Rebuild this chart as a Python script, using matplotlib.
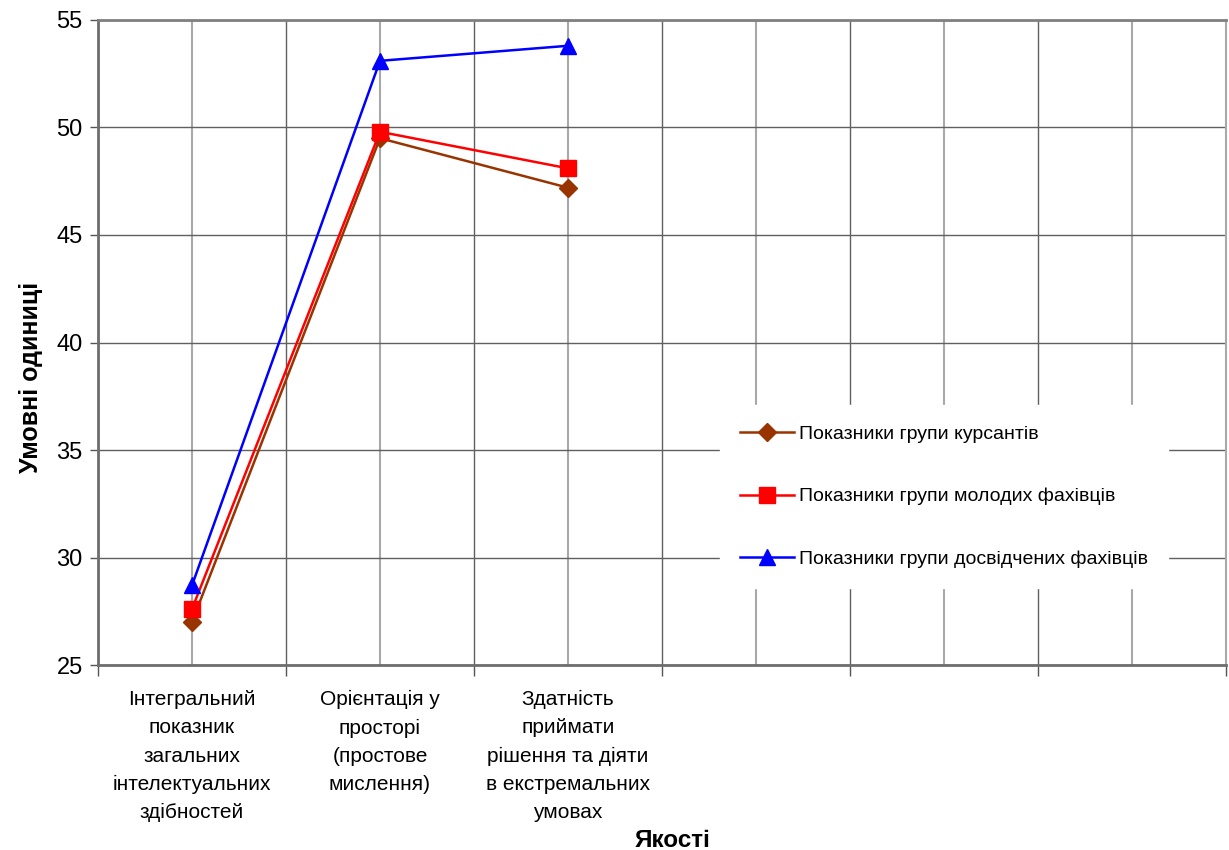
import matplotlib.pyplot as plt
from matplotlib.ticker import FixedLocator, MultipleLocator

plt.rcParams['font.family'] = ['Liberation Sans', 'DejaVu Sans']

categories = [
    "Інтегральний\nпоказник\nзагальних\nінтелектуальних\nздібностей",
    "Орієнтація у\nпросторі\n(простове\nмислення)",
    "Здатність\nприймати\nрішення та діяти\nв екстремальних\nумовах",
    "", "", "",
]
cadets = [27.0, 49.5, 47.2]
young = [27.6, 49.8, 48.1]
experienced = [28.7, 53.1, 53.8]

series_names = [
    "Показники групи курсантів",
    "Показники групи молодих фахівців",
    "Показники групи досвідчених фахівців",
]

fig = plt.figure(figsize=(12.29, 8.5), dpi=100)
ax = fig.add_axes([0.0797, 0.2176, 0.9179, 0.7589])

x = list(range(len(cadets)))
ax.plot(x, cadets, color='#993300', lw=1.8, marker='D', ms=9,
        label=series_names[0], zorder=5)
ax.plot(x, young, color='#ff0000', lw=1.8, marker='s', ms=11,
        label=series_names[1], zorder=5)
ax.plot(x, experienced, color='#0000ff', lw=1.8, marker='^', ms=12,
        label=series_names[2], zorder=5)

ax.set_xlim(-0.5, len(categories) - 0.5)
ax.set_ylim(25, 55)
ax.yaxis.set_major_locator(MultipleLocator(5))

# boundaries between categories carry the dark grid and tick marks
ax.xaxis.set_major_locator(FixedLocator([i - 0.5 for i in range(len(categories) + 1)]))
ax.xaxis.set_minor_locator(FixedLocator(list(range(len(categories)))))
ax.set_xticklabels([], minor=False)
ax.set_xticklabels(categories, minor=True, fontsize=15, linespacing=1.62)
ax.tick_params(axis='x', which='major', length=8, width=1, color='#555555', direction='out')
ax.tick_params(axis='x', which='minor', length=0, pad=18)
ax.tick_params(axis='y', length=6, width=1, color='#555555', labelsize=17, pad=5)

ax.grid(True, which='major', axis='both', color='#606060', lw=1)
ax.grid(True, which='minor', axis='x', color='#a8a8a8', lw=1.5)
ax.set_axisbelow(True)

for side in ['left', 'bottom']:
    ax.spines[side].set_color('#6e6e6e')
    ax.spines[side].set_linewidth(2)
ax.spines['top'].set_color('#808080')
ax.spines['top'].set_linewidth(2)
ax.spines['right'].set_color('#a8a8a8')
ax.spines['right'].set_linewidth(1.5)

ax.set_ylabel("Умовні одиниці", fontsize=18, fontweight='bold')
ax.yaxis.set_label_coords(-0.049, 0.4465)
ax.set_xlabel("Якості", fontsize=17.5, fontweight='bold')
ax.xaxis.set_label_coords(0.509, -0.254)

leg = ax.legend(loc='upper left', bbox_to_anchor=(0.5514, 0.403), fontsize=14,
                frameon=True, facecolor='white', edgecolor='white', framealpha=1,
                fancybox=False, handlelength=2.75, handletextpad=0.25,
                labelspacing=2.3, borderpad=1.05, borderaxespad=0)
leg.set_zorder(10)

fig.savefig('out.png', dpi=100)
